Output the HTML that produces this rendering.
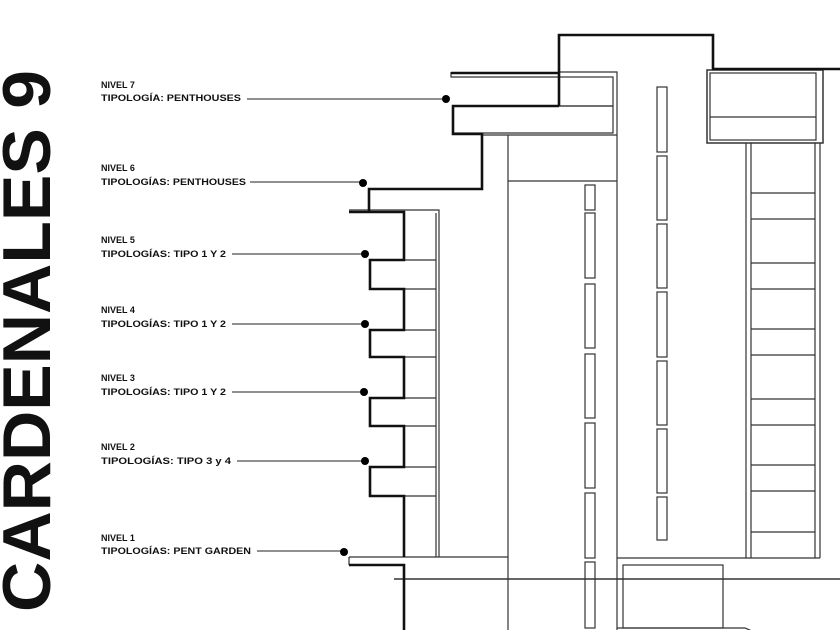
<!DOCTYPE html>
<html><head><meta charset="utf-8"><style>
html,body{margin:0;padding:0;background:#fff;}
svg{display:block;}
</style></head><body>
<svg width="840" height="630" viewBox="0 0 840 630" xmlns="http://www.w3.org/2000/svg">
<rect width="840" height="630" fill="#fff"/>
<text transform="translate(50,612) rotate(-90)" font-family="Liberation Sans, sans-serif" font-weight="bold" font-size="68" textLength="542" lengthAdjust="spacingAndGlyphs" fill="#111">CARDENALES 9</text>

<g font-family="Liberation Sans, sans-serif" font-weight="bold" font-size="9" fill="#111">
<text x="101" y="88">NIVEL 7</text><text x="101" y="101" textLength="140" lengthAdjust="spacingAndGlyphs">TIPOLOGÍA: PENTHOUSES</text>
<text x="101" y="171">NIVEL 6</text><text x="101" y="185" textLength="145" lengthAdjust="spacingAndGlyphs">TIPOLOGÍAS: PENTHOUSES</text>
<text x="101" y="243">NIVEL 5</text><text x="101" y="257" textLength="125" lengthAdjust="spacingAndGlyphs">TIPOLOGÍAS: TIPO 1 Y 2</text>
<text x="101" y="313">NIVEL 4</text><text x="101" y="327" textLength="125" lengthAdjust="spacingAndGlyphs">TIPOLOGÍAS: TIPO 1 Y 2</text>
<text x="101" y="381">NIVEL 3</text><text x="101" y="395" textLength="125" lengthAdjust="spacingAndGlyphs">TIPOLOGÍAS: TIPO 1 Y 2</text>
<text x="101" y="450">NIVEL 2</text><text x="101" y="464" textLength="130" lengthAdjust="spacingAndGlyphs">TIPOLOGÍAS: TIPO 3 y 4</text>
<text x="101" y="541">NIVEL 1</text><text x="101" y="554" textLength="150" lengthAdjust="spacingAndGlyphs">TIPOLOGÍAS: PENT GARDEN</text>
</g>
<g stroke="#222" stroke-width="1">
<line x1="247" y1="99" x2="446" y2="99"/>
<line x1="250" y1="182" x2="363" y2="182"/>
<line x1="232" y1="254" x2="365" y2="254"/>
<line x1="232" y1="324" x2="365" y2="324"/>
<line x1="232" y1="392" x2="364" y2="392"/>
<line x1="237" y1="461" x2="365" y2="461"/>
<line x1="257" y1="551" x2="344" y2="551"/>
</g>
<g fill="#000">
<circle cx="446" cy="99" r="4"/><circle cx="363" cy="183" r="4"/><circle cx="365" cy="254" r="4"/>
<circle cx="365" cy="324" r="4"/><circle cx="364" cy="392" r="4"/><circle cx="365" cy="461" r="4"/>
<circle cx="344" cy="552" r="4"/>
</g>

<g stroke="#333" stroke-width="1.2" fill="none">
<path d="M559 72 H617 V630"/>
<rect x="559" y="77" width="54" height="29"/>
<path d="M453 106 H613 V133 H453"/>
<line x1="481" y1="135" x2="617" y2="135"/>
<line x1="508" y1="135" x2="508" y2="630"/>
<line x1="508" y1="181" x2="617" y2="181"/>
<path d="M451 72 V77 H559"/>
<path d="M349 210 H439 V557"/>
<line x1="436" y1="213" x2="436" y2="557"/>
<line x1="404" y1="260" x2="436" y2="260"/><line x1="404" y1="289" x2="436" y2="289"/>
<line x1="404" y1="330" x2="436" y2="330"/><line x1="404" y1="357" x2="436" y2="357"/>
<line x1="404" y1="398" x2="436" y2="398"/><line x1="404" y1="426" x2="436" y2="426"/>
<line x1="404" y1="467" x2="436" y2="467"/><line x1="404" y1="496" x2="436" y2="496"/>
<line x1="349" y1="557" x2="508" y2="557"/>
<path d="M349 557 V565"/>
<line x1="394" y1="579" x2="840" y2="579" stroke-width="1.5"/>
<rect x="585" y="185" width="10" height="25"/><rect x="585" y="213" width="10" height="65"/>
<rect x="585" y="284" width="10" height="64"/><rect x="585" y="354" width="10" height="64"/>
<rect x="585" y="423" width="10" height="65"/><rect x="585" y="493" width="10" height="65"/>
<rect x="585" y="562" width="10" height="66"/>
<rect x="657" y="87" width="10" height="65"/><rect x="657" y="156" width="10" height="64"/>
<rect x="657" y="224" width="10" height="64"/><rect x="657" y="292" width="10" height="65"/>
<rect x="657" y="361" width="10" height="64"/><rect x="657" y="429" width="10" height="64"/>
<rect x="657" y="497" width="10" height="43"/>
<rect x="707" y="70" width="116" height="73" stroke-width="1.5"/>
<rect x="710" y="73" width="106" height="67"/>
<line x1="710" y1="117" x2="816" y2="117"/>
<line x1="746" y1="143" x2="746" y2="558"/><line x1="751" y1="143" x2="751" y2="558"/>
<line x1="815" y1="143" x2="815" y2="558"/><line x1="820" y1="143" x2="820" y2="558"/>
<g>
<line x1="751" y1="193" x2="815" y2="193"/><line x1="751" y1="219" x2="815" y2="219"/>
<line x1="751" y1="263" x2="815" y2="263"/><line x1="751" y1="289" x2="815" y2="289"/>
<line x1="751" y1="329" x2="815" y2="329"/><line x1="751" y1="355" x2="815" y2="355"/>
<line x1="751" y1="399" x2="815" y2="399"/><line x1="751" y1="425" x2="815" y2="425"/>
<line x1="751" y1="465" x2="815" y2="465"/><line x1="751" y1="491" x2="815" y2="491"/>
<line x1="751" y1="532" x2="815" y2="532"/>
</g>
<line x1="617" y1="558" x2="820" y2="558"/>
<rect x="623" y="565" width="100" height="63"/>
<path d="M617 628 H745 L752 631"/>
</g>

<g stroke="#111" stroke-width="2.6" fill="none" stroke-linejoin="miter">
<path d="M559 106 V35 H713 V69 H840"/>
<path d="M451 73 H559"/>
<path d="M559 106 H453 V134 H482 V189 H369 V211"/>
<path d="M349 212 H404 V260 H370 V289 H404 V330 H370 V357 H404 V398 H370 V426 H404 V467 H370 V496 H404 V557"/>
<path d="M349 565 H404 V630"/>
</g>
</svg>
</body></html>
